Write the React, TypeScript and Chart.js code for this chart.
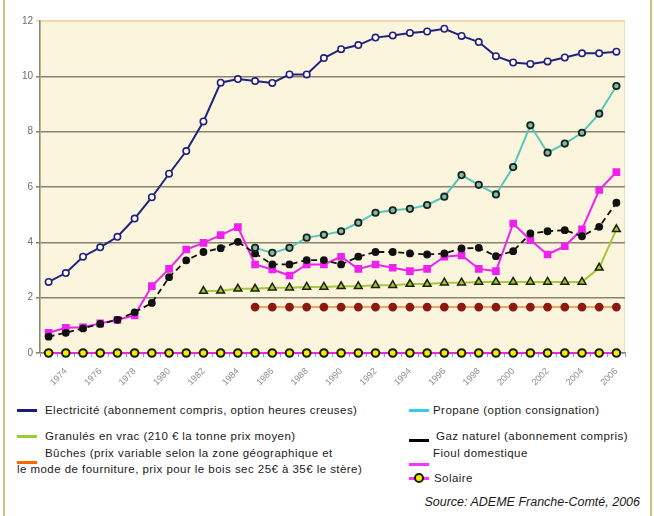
import React, { useEffect, useRef } from "react";
import { Chart, registerables } from "chart.js";

Chart.register(...registerables);

// Years covered by the series (one category per year)
const years = [
  "1973", "1974", "1975", "1976", "1977", "1978", "1979", "1980", "1981", "1982",
  "1983", "1984", "1985", "1986", "1987", "1988", "1989", "1990", "1991", "1992",
  "1993", "1994", "1995", "1996", "1997", "1998", "1999", "2000", "2001", "2002",
  "2003", "2004", "2005", "2006",
];

// Years printed under the axis
const labelledYears = [
  "1974", "1976", "1978", "1980", "1982", "1984", "1986", "1988", "1990",
  "1992", "1994", "1996", "1998", "2000", "2002", "2004", "2006",
];

const yTicks = [0, 2, 4, 6, 8, 10, 12];

// Prix de l'énergie par source
const electricite = [
  2.57, 2.89, 3.48, 3.82, 4.2, 4.86, 5.63, 6.48, 7.3, 8.37,
  9.77, 9.9, 9.83, 9.76, 10.07, 10.07, 10.66, 10.98, 11.13, 11.4,
  11.48, 11.57, 11.62, 11.72, 11.46, 11.24, 10.73, 10.5, 10.45, 10.54,
  10.68, 10.83, 10.83, 10.89,
];

const propane = [
  null, null, null, null, null, null, null, null, null, null,
  null, null, 3.8, 3.62, 3.8, 4.17, 4.27, 4.4, 4.71, 5.07,
  5.16, 5.21, 5.35, 5.65, 6.43, 6.08, 5.73, 6.72, 8.23, 7.24,
  7.57, 7.96, 8.65, 9.65,
];

const gazNaturel = [
  0.59, 0.73, 0.89, 1.05, 1.2, 1.47, 1.81, 2.74, 3.35, 3.65,
  3.79, 4.02, 3.6, 3.2, 3.2, 3.36, 3.36, 3.2, 3.48, 3.65,
  3.65, 3.6, 3.56, 3.6, 3.78, 3.8, 3.5, 3.68, 4.32, 4.4,
  4.44, 4.22, 4.56, 5.43,
];

const fioul = [
  0.73, 0.91, 0.93, 1.07, 1.2, 1.36, 2.42, 3.04, 3.74, 3.98,
  4.26, 4.55, 3.2, 3.02, 2.8, 3.2, 3.2, 3.48, 3.04, 3.2,
  3.08, 2.96, 3.04, 3.48, 3.53, 3.04, 2.96, 4.68, 4.08, 3.56,
  3.86, 4.47, 5.89, 6.54,
];

const granules = [
  null, null, null, null, null, null, null, null, null, 2.24,
  2.25, 2.32, 2.32, 2.36, 2.36, 2.39, 2.39, 2.41, 2.41, 2.45,
  2.45, 2.49, 2.49, 2.54, 2.54, 2.57, 2.57, 2.57, 2.57, 2.57,
  2.57, 2.57, 3.08, 4.47,
];

const buches = [
  null, null, null, null, null, null, null, null, null, null,
  null, null, 1.66, 1.66, 1.66, 1.66, 1.66, 1.66, 1.66, 1.66,
  1.66, 1.66, 1.66, 1.66, 1.66, 1.66, 1.66, 1.66, 1.66, 1.66,
  1.66, 1.66, 1.66, 1.66,
];

const solaire = [
  0, 0, 0, 0, 0, 0, 0, 0, 0, 0,
  0, 0, 0, 0, 0, 0, 0, 0, 0, 0,
  0, 0, 0, 0, 0, 0, 0, 0, 0, 0,
  0, 0, 0, 0,
];

const FONT = '"Liberation Sans", Arial, sans-serif';

// Cream fill behind the plotting area
const plotBackground = {
  id: "plotBackground",
  beforeDraw(chart: any) {
    const { ctx, chartArea } = chart;
    const { left, top, right, bottom } = chartArea;
    ctx.save();
    ctx.fillStyle = "#fcf5de";
    ctx.fillRect(left, top, right - left, bottom - top);
    ctx.strokeStyle = "#f2dcb4";
    ctx.lineWidth = 1;
    ctx.strokeRect(left + 0.5, top + 0.5, right - left - 1, bottom - top - 1);
    ctx.restore();
  },
};

function PriceChart() {
  const canvasRef = useRef<HTMLCanvasElement | null>(null);

  useEffect(() => {
    const canvas = canvasRef.current;
    if (!canvas) return;

    const chart = new Chart(canvas, {
      type: "line",
      data: {
        labels: years,
        datasets: [
          {
            label: "Electricité",
            data: electricite,
            borderColor: "#22227e",
            borderWidth: 2,
            pointRadius: 3.2,
            pointBackgroundColor: "#ffffff",
            pointBorderColor: "#22227e",
            pointBorderWidth: 1.6,
            order: 1,
            clip: false,
          },
          {
            label: "Propane",
            data: propane,
            borderColor: "#55c6bb",
            borderWidth: 2,
            pointRadius: 3.2,
            pointBackgroundColor: "#8fb5a6",
            pointBorderColor: "#10261e",
            pointBorderWidth: 1.8,
            order: 2,
            clip: false,
          },
          {
            label: "Gaz naturel",
            data: gazNaturel,
            borderColor: "#111111",
            borderWidth: 1.8,
            borderDash: [6, 4],
            pointRadius: 3,
            pointBackgroundColor: "#111111",
            pointBorderColor: "#111111",
            order: 3,
            clip: false,
          },
          {
            label: "Fioul domestique",
            data: fioul,
            borderColor: "#ee22ee",
            borderWidth: 2,
            pointStyle: "rect",
            pointRadius: 4,
            pointBackgroundColor: "#ee22ee",
            pointBorderColor: "#ee22ee",
            order: 4,
            clip: false,
          },
          {
            label: "Granulés",
            data: granules,
            borderColor: "#a8c83c",
            borderWidth: 2,
            pointStyle: "triangle",
            pointRadius: 4.5,
            pointBackgroundColor: "#a3c23e",
            pointBorderColor: "#1b2206",
            pointBorderWidth: 1.5,
            order: 5,
            clip: false,
          },
          {
            label: "Bûches",
            data: buches,
            borderColor: "#f2a55c",
            borderWidth: 2,
            pointStyle: "circle",
            pointRadius: 3.4,
            pointBackgroundColor: "#8a1a12",
            pointBorderColor: "#8a1a12",
            order: 6,
            clip: false,
          },
          {
            label: "Solaire",
            data: solaire,
            borderColor: "#ee22ee",
            borderWidth: 2,
            pointRadius: 3.8,
            pointBackgroundColor: "#f2f000",
            pointBorderColor: "#1c1c00",
            pointBorderWidth: 2,
            order: 0,
            clip: false,
          },
        ],
      },
      options: {
        responsive: false,
        animation: false,
        layout: { padding: { top: 21, right: 29, left: 0, bottom: 0 } },
        plugins: {
          legend: { display: false },
          tooltip: { enabled: false },
        },
        scales: {
          x: {
            type: "category",
            offset: true,
            afterFit(scale: any) {
              scale.height = 47;
            },
            grid: {
              display: true,
              drawOnChartArea: false,
              drawTicks: true,
              tickLength: 4,
              color: "#9a9a90",
              offset: true,
            },
            border: { display: true, color: "#8a877c", width: 1.5 },
            ticks: {
              autoSkip: false,
              maxRotation: 45,
              minRotation: 45,
              padding: 9,
              color: "#8c8c8c",
              font: { family: FONT, size: 9 },
              callback: (_v: any, idx: number) =>
                labelledYears.includes(years[idx]) ? years[idx] : "",
            },
          },
          y: {
            min: 0,
            max: 12,
            afterFit(scale: any) {
              scale.width = 40;
            },
            afterBuildTicks(scale: any) {
              scale.ticks = yTicks.map((v) => ({ value: v }));
            },
            grid: {
              color: (c: any) =>
                c.tick && c.tick.value === 12 ? "#f0d6aa" : "#87836f",
              lineWidth: 1.6,
              tickLength: 4,
              drawTicks: true,
            },
            border: { display: true, color: "#8a877c", width: 1.5 },
            ticks: {
              color: "#6e6e6e",
              padding: 3,
              font: { family: FONT, size: 10 },
            },
          },
        },
      },
      plugins: [plotBackground],
    } as any);

    return () => chart.destroy();
  }, []);

  return (
    <canvas
      ref={canvasRef}
      width={654}
      height={400}
      style={{ position: "absolute", left: 0, top: 0, width: 654, height: 400 }}
    />
  );
}

const legendText: React.CSSProperties = {
  position: "absolute",
  fontFamily: FONT,
  fontSize: 11.5,
  letterSpacing: "0.45px",
  lineHeight: "13px",
  color: "#1a1a1a",
  whiteSpace: "nowrap",
};

function Swatch({ x, y, color }: { x: number; y: number; color: string }) {
  return (
    <div
      style={{
        position: "absolute",
        left: x,
        top: y - 1,
        width: 20,
        height: 2.5,
        background: color,
      }}
    />
  );
}

export default function App() {
  return (
    <div
      style={{
        position: "fixed",
        left: 0,
        top: 0,
        width: 654,
        height: 516,
        background: "#ffffff",
        overflow: "hidden",
      }}
    >
      <PriceChart />

      {/* frame */}
      <div style={{ position: "absolute", left: 3, top: 0, width: 2, height: 516, background: "#c8c27a" }} />
      <div style={{ position: "absolute", left: 650, top: 0, width: 2, height: 516, background: "#c8c27a" }} />

      {/* legend, left column */}
      <Swatch x={17} y={410} color="#1c1c7c" />
      <div style={{ ...legendText, left: 45, top: 403.5 }}>
        Electricité (abonnement compris, option heures creuses)
      </div>

      <Swatch x={17} y={436} color="#99cc33" />
      <div style={{ ...legendText, left: 45, top: 429.5 }}>
        Granulés en vrac (210 € la tonne prix moyen)
      </div>

      <Swatch x={17} y={462} color="#ff6600" />
      <div style={{ ...legendText, left: 45, top: 446.5 }}>
        Bûches (prix variable selon la zone géographique et
      </div>
      <div style={{ ...legendText, left: 17, top: 462.5 }}>
        le mode de fourniture, prix pour le bois sec 25€ à 35€ le stère)
      </div>

      {/* legend, right column */}
      <Swatch x={409} y={410} color="#33ccee" />
      <div style={{ ...legendText, left: 433, top: 403.5 }}>
        Propane (option consignation)
      </div>

      <Swatch x={409} y={440} color="#000000" />
      <div style={{ ...legendText, left: 436, top: 429.5 }}>
        Gaz naturel (abonnement compris)
      </div>

      <Swatch x={409} y={464} color="#ff33ff" />
      <div style={{ ...legendText, left: 433, top: 446.5 }}>
        Fioul domestique
      </div>

      <Swatch x={409} y={478} color="#ff33ff" />
      <div
        style={{
          position: "absolute",
          left: 414,
          top: 473,
          width: 6,
          height: 6,
          borderRadius: "50%",
          background: "#f2f000",
          border: "2px solid #1c1c00",
        }}
      />
      <div style={{ ...legendText, left: 434, top: 471.5 }}>Solaire</div>

      <div
        style={{
          position: "absolute",
          right: 14,
          top: 495,
          fontFamily: FONT,
          fontSize: 12.5,
          fontStyle: "italic",
          color: "#1a1a1a",
          whiteSpace: "nowrap",
        }}
      >
        Source: ADEME Franche-Comté, 2006
      </div>
    </div>
  );
}
